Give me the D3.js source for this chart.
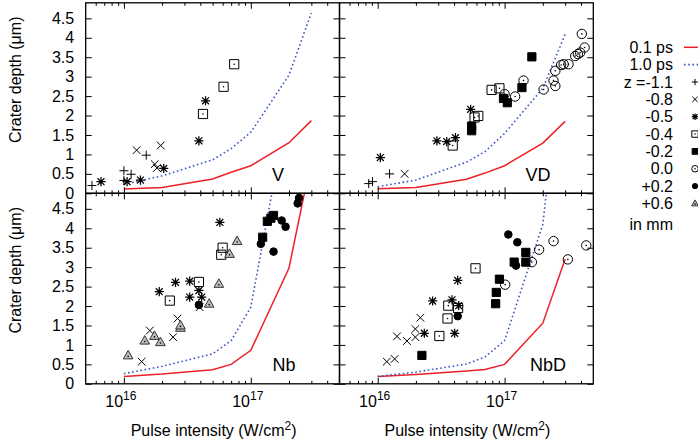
<!DOCTYPE html>
<html>
<head>
<meta charset="utf-8">
<style>
body {margin:0; background:#fff;}
svg {display:block; font-family:"Liberation Sans", Arial, sans-serif;}
</style>
</head>
<body>
<div id="chart"></div>
<script src="https://d3js.org/d3.v7.min.js"></script>
<script>
// intensities (W/cm2) where the two model curves are evaluated
var modelIntensity = [1e16, 2e16, 5e16, 7e16, 1e17, 2e17, 3e17]

// model crater depth (um), 0.1 ps and 1.0 ps pulses
var vShort   = [0.11, 0.15, 0.37, 0.54, 0.71, 1.30, 1.87]
var vLong    = [0.23, 0.45, 0.86, 1.15, 1.57, 3.04, 4.64]
var vdShort  = [0.12, 0.15, 0.36, 0.52, 0.71, 1.29, 1.85]
var vdLong   = [0.17, 0.34, 0.80, 1.07, 1.54, 2.70, 4.09]
var nbShort  = [0.19, 0.25, 0.36, 0.50, 0.86, 2.98, 5.77]
var nbLong   = [0.26, 0.45, 0.77, 1.11, 1.97, 7.28, 10.5]
var nbdShort = [0.19, 0.24, 0.33, 0.37, 0.50, 1.56, 3.21]
var nbdLong  = [0.19, 0.30, 0.51, 0.69, 1.11, 4.10, 9.20]

// focus positions z (mm) and the point type used for each
var zKeys   = ["-1.1", "-0.8", "-0.5", "-0.4", "-0.2", "0.0", "+0.2", "+0.6"]
var zLabels = ["z =-1.1", "-0.8", "-0.5", "-0.4", "-0.2", "0.0", "+0.2", "+0.6"]
var zMarks  = ["plus", "cross", "star", "boxdot", "box", "circdot", "disc", "tri"]

// measured craters: [intensity, depth, z]
var vPoints = [
  [5.6e15, 0.20, "-1.1"], [1.0e16, 0.58, "-1.1"], [1.14e16, 0.49, "-1.1"], [1.5e16, 0.98, "-1.1"], [1.0e16, 0.33, "-1.1"],
  [1.26e16, 1.11, "-0.8"], [1.95e16, 1.23, "-0.8"], [1.75e16, 0.75, "-0.8"], [1.82e16, 0.65, "-0.8"],
  [6.6e15, 0.30, "-0.5"], [1.06e16, 0.30, "-0.5"], [1.35e16, 0.34, "-0.5"], [2.06e16, 0.64, "-0.5"], [3.9e16, 1.35, "-0.5"], [4.4e16, 2.38, "-0.5"],
  [4.2e16, 2.04, "-0.4"], [6.1e16, 2.74, "-0.4"], [7.4e16, 3.32, "-0.4"]
]
var vdPoints = [
  [8.5e15, 0.25, "-1.1"], [9.1e15, 0.30, "-1.1"], [1.24e16, 0.50, "-1.1"],
  [1.63e16, 0.50, "-0.8"],
  [1.05e16, 0.92, "-0.5"], [2.93e16, 1.35, "-0.5"], [3.5e16, 1.33, "-0.5"], [4.1e16, 1.43, "-0.5"], [5.4e16, 2.16, "-0.5"],
  [3.9e16, 1.23, "-0.4"], [5.8e16, 1.95, "-0.4"], [6.2e16, 1.99, "-0.4"], [7.9e16, 2.66, "-0.4"], [9.1e16, 2.70, "-0.4"],
  [5.5e16, 1.73, "-0.2"], [5.5e16, 1.61, "-0.2"], [9.8e16, 2.44, "-0.2"], [1.05e17, 2.33, "-0.2"], [1.37e17, 2.72, "-0.2"], [1.64e17, 3.51, "-0.2"],
  [1.0e17, 2.55, "0.0"], [1.21e17, 2.49, "0.0"], [1.41e17, 2.90, "0.0"], [2.03e17, 2.67, "0.0"], [2.43e17, 2.90, "0.0"],
  [2.51e17, 2.76, "0.0"], [2.51e17, 3.15, "0.0"], [2.79e17, 3.30, "0.0"], [2.92e17, 3.32, "0.0"], [3.19e17, 3.32, "0.0"],
  [3.6e17, 3.53, "0.0"], [3.78e17, 3.58, "0.0"], [3.94e17, 3.62, "0.0"], [4.27e17, 3.75, "0.0"], [4.06e17, 4.10, "0.0"]
]
var nbPoints = [
  [1.38e16, 0.57, "-0.8"], [1.6e16, 1.37, "-0.8"], [2.44e16, 1.20, "-0.8"], [2.65e16, 1.68, "-0.8"], [3.95e16, 1.97, "-0.8"],
  [1.9e16, 2.37, "-0.5"], [2.55e16, 2.61, "-0.5"], [3.3e16, 2.64, "-0.5"], [3.3e16, 2.23, "-0.5"], [3.9e16, 2.40, "-0.5"], [4.1e16, 2.23, "-0.5"], [5.7e16, 4.15, "-0.5"],
  [2.3e16, 2.14, "-0.4"], [3.9e16, 2.62, "-0.4"], [6.0e16, 3.50, "-0.4"], [5.85e16, 3.32, "-0.4"],
  [1.24e17, 3.77, "-0.2"], [1.35e17, 4.18, "-0.2"], [1.44e17, 4.26, "-0.2"], [1.51e17, 4.33, "-0.2"],
  [3.9e16, 2.03, "+0.2"], [1.2e17, 3.60, "+0.2"], [1.51e17, 3.40, "+0.2"], [1.75e17, 4.20, "+0.2"], [1.88e17, 4.04, "+0.2"], [2.34e17, 4.64, "+0.2"], [2.4e17, 4.78, "+0.2"],
  [1.08e16, 0.73, "+0.6"], [1.46e16, 1.11, "+0.6"], [1.74e16, 1.23, "+0.6"], [1.94e16, 1.07, "+0.6"], [2.79e16, 1.44, "+0.6"],
  [2.79e16, 1.50, "+0.6"], [4.7e16, 2.06, "+0.6"], [5.6e16, 2.57, "+0.6"], [6.8e16, 3.34, "+0.6"], [7.8e16, 3.67, "+0.6"]
]
var nbdPoints = [
  [1.18e16, 0.57, "-0.8"], [1.36e16, 0.64, "-0.8"], [1.42e16, 1.22, "-0.8"], [1.7e16, 1.10, "-0.8"], [1.98e16, 1.20, "-0.8"], [1.98e16, 1.41, "-0.8"], [2.17e16, 1.70, "-0.8"],
  [2.33e16, 1.30, "-0.5"], [2.71e16, 2.13, "-0.5"], [3.85e16, 2.16, "-0.5"], [4.04e16, 1.30, "-0.5"], [4.27e16, 2.66, "-0.5"], [4.35e16, 2.01, "-0.5"],
  [3.06e16, 1.23, "-0.4"], [3.55e16, 1.68, "-0.4"], [3.6e16, 2.01, "-0.4"], [4.3e16, 1.95, "-0.4"], [5.9e16, 2.97, "-0.4"],
  [2.23e16, 0.73, "-0.2"], [8.5e16, 2.06, "-0.2"], [8.6e16, 2.35, "-0.2"], [9.1e16, 2.69, "-0.2"], [1.19e17, 3.13, "-0.2"], [1.47e17, 3.13, "-0.2"], [1.47e17, 3.38, "-0.2"],
  [1.01e17, 2.55, "0.0"], [1.64e17, 3.13, "0.0"], [1.87e17, 3.45, "0.0"], [2.43e17, 3.67, "0.0"], [3.15e17, 3.20, "0.0"], [4.4e17, 3.56, "0.0"],
  [4.27e16, 1.74, "+0.2"], [1.07e17, 3.84, "+0.2"], [1.26e17, 3.64, "+0.2"], [1.23e17, 3.04, "+0.2"]
]

var panelNames = ["V", "VD", "Nb", "NbD"]

var width = 698, height = 441
var colX = [85.7, 339.5], colW = 253.8
var rowY = [2.8, 193.3], rowH = 190.5
var fs = 16

var red = "#ee2027", blue = "#3a58c4"

var svg = d3.select("#chart").append("svg")
  .attr("width", width).attr("height", height)

// draw one marker shape centred on 0,0
function markerPath(type, s) {
  var p = d3.path()
  if (type == "plus" || type == "star") {
    p.moveTo(-s, 0); p.lineTo(s, 0); p.moveTo(0, -s); p.lineTo(0, s)
  }
  if (type == "cross" || type == "star") {
    var c = type == "star" ? s * 0.75 : s * 0.85
    p.moveTo(-c, -c); p.lineTo(c, c); p.moveTo(-c, c); p.lineTo(c, -c)
  }
  if (type == "box" || type == "boxdot") p.rect(-s, -s, 2 * s, 2 * s)
  if (type == "disc" || type == "circdot") { p.moveTo(s, 0); p.arc(0, 0, s, 0, 2 * Math.PI) }
  if (type == "tri") { p.moveTo(0, -s * 1.1); p.lineTo(s * 1.05, s * 0.75); p.lineTo(-s * 1.05, s * 0.75); p.closePath() }
  return p.toString()
}

function drawMarker(g, type, s) {
  var fill = "none"
  if (type == "box" || type == "disc") fill = "#000"
  if (type == "tri") fill = "#bbb"
  g.append("path").attr("d", markerPath(type, s))
    .attr("fill", fill).attr("stroke", type == "tri" ? "#333" : "#000")
    .attr("stroke-width", type == "star" ? 1.25 : 1)
  if (type == "boxdot" || type == "circdot" || type == "tri")
    g.append("circle").attr("cy", type == "tri" ? s * 0.2 : 0).attr("r", 0.8).attr("fill", "#000")
}

var sizes = {plus: 4.5, cross: 4.5, star: 4.6, boxdot: 4.6, box: 4.1, circdot: 4.7, disc: 3.8, tri: 4.6}

var panelData = [
  [vShort, vLong, vPoints],
  [vdShort, vdLong, vdPoints],
  [nbShort, nbLong, nbPoints],
  [nbdShort, nbdLong, nbdPoints]
]

var minor = []
;[1e15, 1e16, 1e17].forEach(function(d) {
  for (var k = 2; k <= 9; k++) if (d * k > 5e15 && d * k < 5e17) minor.push(d * k)
})
var yTicks = d3.range(0, 4.51, 0.5)

panelNames.forEach(function(name, i) {
  var col = i % 2, row = Math.floor(i / 2)
  var x = d3.scaleLog().domain([5e15, 5e17]).range([colX[col], colX[col] + colW])
  var y = d3.scaleLinear().domain([0, 4.9]).range([rowY[row] + rowH, rowY[row]])
  var x0 = colX[col], y0 = rowY[row]

  var clipId = "clip" + i
  svg.append("clipPath").attr("id", clipId)
    .append("rect").attr("x", x0).attr("y", y0).attr("width", colW).attr("height", rowH)

  var plot = svg.append("g").attr("clip-path", "url(#" + clipId + ")")

  var line = d3.line().x(function(d) { return x(d[0]) }).y(function(d) { return y(d[1]) })
  var shortData = d3.zip(modelIntensity, panelData[i][0])
  var longData = d3.zip(modelIntensity, panelData[i][1])
  plot.append("path").attr("d", line(shortData))
    .attr("fill", "none").attr("stroke", red).attr("stroke-width", 1.5)
  plot.append("path").attr("d", line(longData))
    .attr("fill", "none").attr("stroke", blue).attr("stroke-width", 1.6)
    .attr("stroke-dasharray", "1.6,2.6")

  panelData[i][2].forEach(function(d) {
    var type = zMarks[zKeys.indexOf(d[2])]
    var g = plot.append("g").attr("transform", "translate(" + x(d[0]) + "," + y(d[1]) + ")")
    drawMarker(g, type, sizes[type])
  })

  // ticks on all four sides, pointing inwards
  var bottom = y0 + rowH, right = x0 + colW
  function noDomain(g) { g.select(".domain").remove(); g.selectAll("line").attr("stroke", "#000") }
  svg.append("g").attr("transform", "translate(0," + bottom + ")")
    .call(d3.axisBottom(x).tickValues([1e16, 1e17]).tickSize(-6).tickFormat("")).call(noDomain)
  svg.append("g").attr("transform", "translate(0," + bottom + ")")
    .call(d3.axisBottom(x).tickValues(minor).tickSize(-3).tickFormat("")).call(noDomain)
  svg.append("g").attr("transform", "translate(0," + y0 + ")")
    .call(d3.axisTop(x).tickValues([1e16, 1e17]).tickSize(-6).tickFormat("")).call(noDomain)
  svg.append("g").attr("transform", "translate(0," + y0 + ")")
    .call(d3.axisTop(x).tickValues(minor).tickSize(-3).tickFormat("")).call(noDomain)

  var leftAxis = d3.axisLeft(y).tickValues(yTicks).tickSize(-6).tickPadding(11.5)
    .tickFormat(d3.format("~g"))
  if (col == 1) leftAxis.tickFormat("")
  svg.append("g").attr("transform", "translate(" + x0 + ",0)")
    .call(leftAxis).call(noDomain)
    .selectAll("text").attr("font-size", fs).attr("font-family", "Liberation Sans, Arial, sans-serif").attr("fill", "#000")
  svg.append("g").attr("transform", "translate(" + right + ",0)")
    .call(d3.axisRight(y).tickValues(yTicks).tickSize(-6).tickFormat("")).call(noDomain)

  svg.append("rect").attr("x", x0).attr("y", y0).attr("width", colW).attr("height", rowH)
    .attr("fill", "none").attr("stroke", "#000").attr("stroke-width", 1.3)

  svg.append("text").attr("x", [278, 538, 284, 548][i]).attr("y", y0 + 178)
    .attr("text-anchor", "middle").attr("font-size", 18).text(name)

  if (row == 1) {
    ;[1e16, 1e17].forEach(function(v) {
      var t = svg.append("text").attr("x", x(v) - 3).attr("y", 406.5)
        .attr("text-anchor", "middle").attr("font-size", fs)
      t.append("tspan").text("10")
      t.append("tspan").attr("dy", -6.5).attr("font-size", 12).text(Math.round(Math.log10(v)))
    })
    var xl = svg.append("text").attr("x", x0 + colW / 2 + 1).attr("y", 436)
      .attr("text-anchor", "middle").attr("font-size", fs)
    xl.append("tspan").text("Pulse intensity (W/cm")
    xl.append("tspan").attr("dy", -6.5).attr("font-size", 12).text("2")
    xl.append("tspan").attr("dy", 6.5).text(")")
  }
  if (col == 0) {
    svg.append("text").attr("transform", "translate(21," + (y0 + 77) + ") rotate(-90)")
      .attr("text-anchor", "middle").attr("font-size", fs).text("Crater depth (\u03bcm)")
  }
})

// legend
var legY = function(k) { return 47.3 + k * 17.35 }
var leg = svg.append("g").attr("font-size", fs)
leg.append("text").attr("x", 673).attr("y", legY(0) + 5.5).attr("text-anchor", "end").text("0.1 ps")
leg.append("line").attr("x1", 684).attr("x2", 710).attr("y1", legY(0)).attr("y2", legY(0))
  .attr("stroke", red).attr("stroke-width", 1.5)
leg.append("text").attr("x", 673).attr("y", legY(1) + 5.5).attr("text-anchor", "end").text("1.0 ps")
leg.append("line").attr("x1", 684).attr("x2", 710).attr("y1", legY(1)).attr("y2", legY(1))
  .attr("stroke", blue).attr("stroke-width", 1.6).attr("stroke-dasharray", "1.6,2.6")
zLabels.forEach(function(lab, k) {
  leg.append("text").attr("x", 673).attr("y", legY(k + 2) + 5.5).attr("text-anchor", "end").text(lab)
  var g = leg.append("g").attr("transform", "translate(695," + legY(k + 2) + ")")
  drawMarker(g, zMarks[k], sizes[zMarks[k]] * 0.7)
})
leg.append("text").attr("x", 673).attr("y", 224.3 + 5.5).attr("text-anchor", "end").text("in mm")
</script>
</body>
</html>
